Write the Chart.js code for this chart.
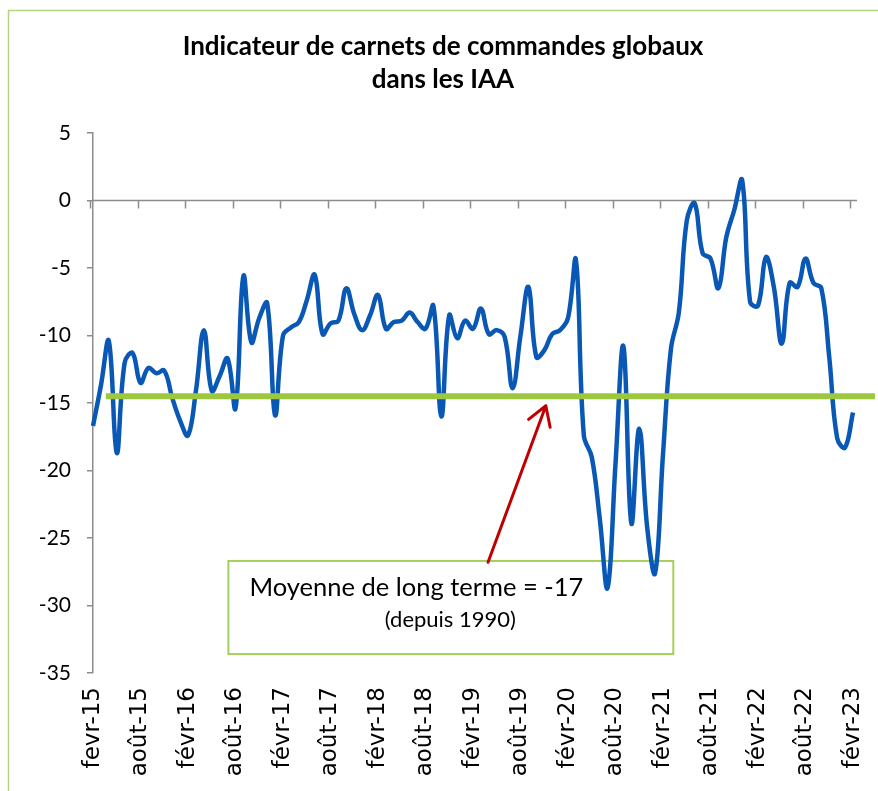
<!DOCTYPE html>
<html><head><meta charset="utf-8">
<script src="https://cdn.jsdelivr.net/npm/chart.js@4/dist/chart.umd.min.js"></script>
<style>html,body{margin:0;padding:0;background:#fff}#wrap{width:878px;height:791px;position:relative}</style>
</head><body><div id="wrap"><canvas id="c"></canvas></div>
<script>
// ---- data ----
const monthNames = ['janv','févr','mars','avr','mai','juin','juil','août','sept','oct','nov','déc'];
const firstMonthIndex = 1;   // février
const firstYear = 15;
const tickLabels = ['fevr-15','août-15','févr-16','août-16','févr-17','août-17','févr-18','août-18',
  'févr-19','août-19','févr-20','août-20','févr-21','août-21','févr-22','août-22','févr-23'];
const carnets = [
  -16.7,-13.7,-10.4,-18.7,-12.0,-11.3,-13.5,-12.4,-12.8,-12.6,-14.6,-16.3,
  -17.4,-14.1,-9.6,-14.1,-13.0,-11.7,-15.4,-5.6,-10.5,-8.7,-7.6,-15.9,
  -10.0,-9.4,-9.0,-7.4,-5.5,-9.9,-9.1,-8.9,-6.5,-8.4,-9.6,-8.5,
  -7.0,-9.5,-9.0,-8.9,-8.3,-9.0,-9.5,-7.8,-16.0,-8.5,-10.2,-8.9,
  -9.5,-8.0,-9.9,-9.6,-10.1,-13.9,-10.0,-6.4,-11.6,-11.1,-9.9,-9.6,
  -8.7,-4.4,-17.4,-19.0,-23.5,-28.7,-19.5,-10.8,-23.9,-16.9,-24.2,-27.6,
  -18.8,-11.0,-8.3,-1.5,-0.2,-3.9,-4.3,-6.5,-2.7,-0.7,1.5,-7.5,
  -7.8,-4.2,-6.4,-10.6,-6.1,-6.4,-4.3,-6.1,-6.5,-11.6,-17.6,-18.3,
  -15.7
];
const meanLineValue = -14.5;
const titleLines = ['Indicateur de carnets de commandes globaux','dans les IAA'];
const noteLines = ['Moyenne de long terme = -17','(depuis 1990)'];

const categories = carnets.map((_, i) => {
  const m = firstMonthIndex + i;
  return monthNames[m % 12] + '-' + (firstYear + Math.floor(m / 12));
});

// ---- layout of the annotation (in data coordinates) ----
const noteBox = { x0: 17.1, x1: 73.3, y0: -26.7, y1: -33.6 };
const arrow = { x0: 49.9, y0: -26.8, x1: 57.2, y1: -15.2 };

const overlay = {
  id: 'overlay',
  beforeDraw(chart) {
    const ctx = chart.ctx;
    ctx.save();
    ctx.fillStyle = '#fff';
    ctx.fillRect(0, 0, chart.width, chart.height);
    ctx.strokeStyle = '#b3d57a';
    ctx.lineWidth = 1.5;
    ctx.strokeRect(8.5, 10.5, chart.width + 20, chart.height + 20);
    ctx.restore();
  },
  beforeDatasetsDraw(chart) {
    const { ctx, chartArea: a, scales: { x, y } } = chart;
    const y0 = y.getPixelForValue(0);
    ctx.save();
    ctx.strokeStyle = '#8c8c8c';
    ctx.lineWidth = 1.5;
    ctx.beginPath();
    ctx.moveTo(a.left, y0);
    ctx.lineTo(a.right + 4, y0);
    for (let i = 0; i < categories.length; i += 6) {
      const px = Math.round(x.getPixelForValue(i)) - 2.5;
      ctx.moveTo(px, y0);
      ctx.lineTo(px, y0 + 8);
    }
    ctx.stroke();
    // note box
    const bx0 = x.getPixelForValue(noteBox.x0), bx1 = x.getPixelForValue(noteBox.x1);
    const by0 = y.getPixelForValue(noteBox.y0), by1 = y.getPixelForValue(noteBox.y1);
    ctx.strokeStyle = '#a5cf5c';
    ctx.lineWidth = 2;
    ctx.strokeRect(bx0, by0, bx1 - bx0, by1 - by0);
    ctx.restore();
  },
  afterDatasetsDraw(chart) {
    const { ctx, scales: { x, y } } = chart;
    ctx.save();
    // long-term mean line
    const ym = y.getPixelForValue(meanLineValue);
    ctx.strokeStyle = '#9dc73f';
    ctx.lineWidth = 6;
    ctx.beginPath();
    ctx.moveTo(x.getPixelForValue(2) - 3, ym);
    ctx.lineTo(chart.width - 3, ym);
    ctx.stroke();
    // arrow
    const ax0 = x.getPixelForValue(arrow.x0), ay0 = y.getPixelForValue(arrow.y0);
    const ax1 = x.getPixelForValue(arrow.x1), ay1 = y.getPixelForValue(arrow.y1);
    const ang = Math.atan2(ay1 - ay0, ax1 - ax0);
    ctx.strokeStyle = '#c00000';
    ctx.lineWidth = 3;
    ctx.lineCap = 'round';
    ctx.lineJoin = 'round';
    ctx.beginPath();
    ctx.moveTo(ax0, ay0);
    ctx.lineTo(ax1, ay1);
    const hl = 22, ha = 0.55;
    ctx.moveTo(ax1 - hl * Math.cos(ang - ha), ay1 - hl * Math.sin(ang - ha));
    ctx.lineTo(ax1, ay1);
    ctx.lineTo(ax1 - hl * Math.cos(ang + ha), ay1 - hl * Math.sin(ang + ha));
    ctx.stroke();
    // note text
    const bx0 = x.getPixelForValue(noteBox.x0);
    const by0 = y.getPixelForValue(noteBox.y0);
    ctx.fillStyle = '#000';
    ctx.textBaseline = 'middle';
    ctx.textAlign = 'left';
    ctx.font = '25.5px Lato';
    ctx.fillText(noteLines[0], bx0 + 21, by0 + 27);
    ctx.textAlign = 'center';
    ctx.font = '22px Lato';
    ctx.fillText(noteLines[1], bx0 + 222, by0 + 59);
    ctx.restore();
  }
};

new Chart(document.getElementById('c'), {
  type: 'line',
  data: {
    labels: categories,
    datasets: [{
      data: carnets,
      borderColor: '#0a58b5',
      borderWidth: 4.5,
      pointRadius: 0,
      tension: 0.4,
      fill: false
    }]
  },
  options: {
    responsive: true,
    maintainAspectRatio: false,
    animation: false,
    layout: { padding: { left: 8, right: 0, top: 0, bottom: 0 } },
    plugins: {
      legend: { display: false },
      tooltip: { enabled: false },
      title: {
        display: true,
        text: titleLines,
        color: '#000',
        font: { family: 'Lato', size: 26, weight: 'bold', lineHeight: 1.27 },
        padding: { top: 30, bottom: 37 }
      }
    },
    scales: {
      x: {
        type: 'category',
        offset: false,
        grid: { display: false, drawTicks: false },
        border: { display: false },
        afterFit(s) { s.height = 118; s.paddingRight = 25; s.paddingLeft = 0; },
        ticks: {
          autoSkip: false,
          maxRotation: 90,
          minRotation: 90,
          padding: 14,
          color: '#000',
          font: { family: 'DejaVu Sans', size: 23 },
          callback(v, i) { return i % 6 === 0 ? tickLabels[i / 6] : null; }
        }
      },
      y: {
        min: -35,
        max: 5,
        afterFit(s) { s.width = 85; },
        grid: { drawOnChartArea: false, drawTicks: true, tickLength: 6, color: '#8c8c8c', lineWidth: 1.5 },
        border: { display: true, color: '#8c8c8c', width: 1.5 },
        ticks: {
          stepSize: 5,
          padding: 16,
          color: '#000',
          font: { family: 'Lato', size: 21 },
          callback(v) { return String(v); }
        }
      }
    }
  },
  plugins: [overlay]
});
</script>
</body></html>
